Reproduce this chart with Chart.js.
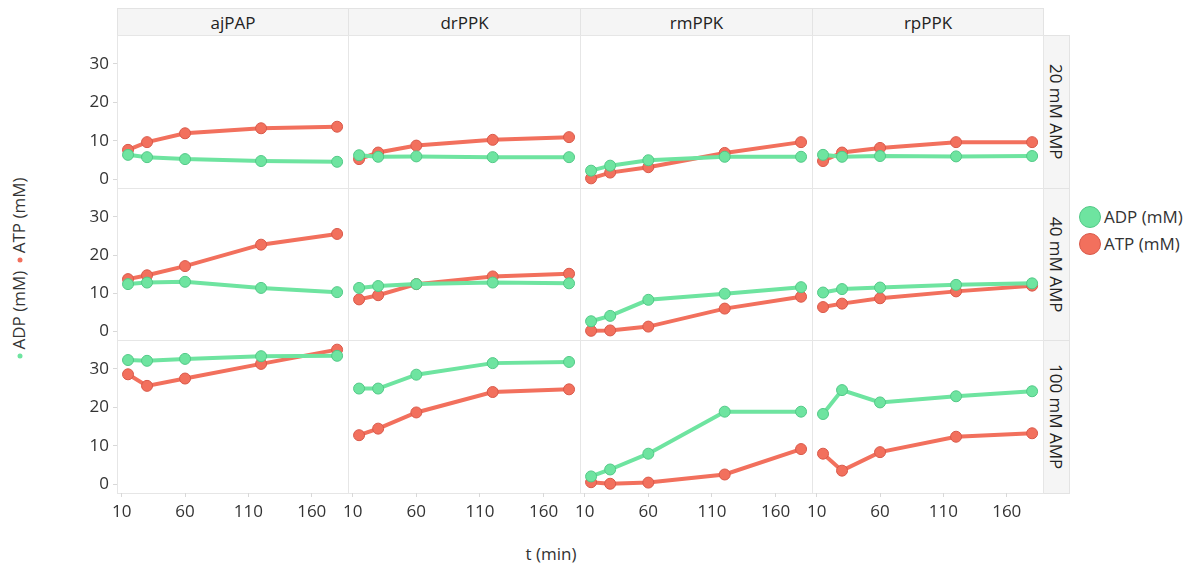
<!DOCTYPE html>
<html>
<head>
<meta charset="utf-8">
<script src="https://cdn.jsdelivr.net/npm/chart.js@4/dist/chart.umd.min.js"></script>
<style>
  html, body { margin: 0; padding: 0; background: #fff; }
  body { width: 1191px; height: 567px; position: relative; overflow: hidden;
         font-family: "Open Sans", "Noto Sans", sans-serif; color: #333; }
  .strip { position: absolute; background: #f5f5f5; border: 1px solid #e3e3e3; box-sizing: border-box;
           display: flex; align-items: center; justify-content: center; font-size: 17px; color: #222; }
  .strip.side span { writing-mode: vertical-rl; }
  .frame { position: absolute; border: 1px solid #e6e6e6; box-sizing: border-box; background: #fff; }
  canvas { position: absolute; }
  .ytitle { position: absolute; left: 18px; top: 270px; white-space: nowrap; font-size: 17px; color: #333;
            transform: translate(-50%, -50%) rotate(-90deg); }
  .dot { display: inline-block; width: 5px; height: 5px; border-radius: 50%; vertical-align: middle; margin: 0 4px 0 4px; }
  .xtitle { position: absolute; left: 551px; top: 553px; transform: translate(-50%, -50%); font-size: 17px; color: #333; }
  .legend { position: absolute; left: 1079px; top: 203px; font-size: 17px; color: #333; }
  .legend .item { display: flex; align-items: center; height: 27px; }
  .legend .sw { width: 22px; height: 22px; border-radius: 50%; box-sizing: border-box; margin-right: 3px; }
</style>
</head>
<body>
<script>
// Facets: enzyme (columns) x AMP concentration (rows)
const enzymes = ['ajPAP', 'drPPK', 'rmPPK', 'rpPPK'];
const ampLevels = ['20 mM AMP', '40 mM AMP', '100 mM AMP'];
const times = [15, 30, 60, 120, 180];
const xTicks = [10, 60, 110, 160];
const yTicks = [0, 10, 20, 30];

// ADP / ATP (mM) per enzyme, in enzyme order
const adp20  = [[6.4, 5.8, 5.3, 4.8, 4.6], [6.3, 5.9, 6.0, 5.8, 5.8], [2.3, 3.6, 5.0, 5.9, 5.9], [6.4, 5.9, 6.1, 6.0, 6.1]];
const atp20  = [[7.7, 9.7, 12.0, 13.3, 13.7], [5.3, 7.0, 8.8, 10.3, 11.0], [0.3, 1.8, 3.2, 6.9, 9.7], [4.8, 7.0, 8.2, 9.7, 9.7]];
const adp40  = [[12.4, 12.8, 13.0, 11.4, 10.3], [11.4, 11.9, 12.4, 12.8, 12.6], [2.7, 4.1, 8.3, 9.9, 11.6], [10.2, 11.1, 11.5, 12.2, 12.6]];
const atp40  = [[13.7, 14.7, 17.1, 22.7, 25.5], [8.4, 9.5, 12.4, 14.4, 15.1], [0.2, 0.3, 1.3, 6.0, 9.1], [6.4, 7.3, 8.7, 10.5, 12.0]];
const adp100 = [[32.3, 32.1, 32.6, 33.3, 33.4], [24.9, 24.9, 28.5, 31.5, 31.8], [2.1, 3.9, 8.0, 18.9, 18.9], [18.3, 24.5, 21.3, 22.9, 24.2]];
const atp100 = [[28.6, 25.6, 27.5, 31.3, 35.0], [12.8, 14.5, 18.7, 24.0, 24.7], [0.6, 0.2, 0.5, 2.6, 9.2], [8.0, 3.6, 8.4, 12.4, 13.3]];

const adpRows = [adp20, adp40, adp100];
const atpRows = [atp20, atp40, atp100];

const seriesNames = ['ADP (mM)', 'ATP (mM)'];
const lineColors = ['#6ee4a0', '#f2705d'];
const pointBorders = ['#52c987', '#d9594a'];

// Panel grid geometry
const colEdges = [117, 348, 580, 812, 1043];
const rowEdges = [35, 188, 340, 493];
const LEFT_M = 45, BOTTOM_M = 40;

Chart.defaults.font.family = '"Open Sans", "Noto Sans", sans-serif';
Chart.defaults.font.size = 17;
Chart.defaults.color = '#333';

function el(tag, cls, style, html) {
  const e = document.createElement(tag);
  if (cls) e.className = cls;
  Object.assign(e.style, style || {});
  if (html !== undefined) e.innerHTML = html;
  document.body.appendChild(e);
  return e;
}

// Column header strips
enzymes.forEach((name, c) => {
  el('div', 'strip', { left: colEdges[c] + 'px', top: '8px', width: (colEdges[c + 1] - colEdges[c] + 1) + 'px', height: '28px' }, name);
});
// Row strips on the right
ampLevels.forEach((name, r) => {
  el('div', 'strip side', { left: '1043px', top: rowEdges[r] + 'px', width: '27px', height: (rowEdges[r + 1] - rowEdges[r] + 1) + 'px' }, '<span>' + name + '</span>');
});
// Panel frames
for (let r = 0; r < 3; r++) {
  for (let c = 0; c < 4; c++) {
    el('div', 'frame', { left: colEdges[c] + 'px', top: rowEdges[r] + 'px',
      width: (colEdges[c + 1] - colEdges[c] + 1) + 'px', height: (rowEdges[r + 1] - rowEdges[r] + 1) + 'px' });
  }
}

// Axis titles and legend
el('div', 'ytitle', {}, '<span class="dot" style="background:' + lineColors[0] + '"></span>' + seriesNames[0] +
  ' <span class="dot" style="background:' + lineColors[1] + '"></span>' + seriesNames[1]);
el('div', 'xtitle', {}, 't (min)');
el('div', 'legend', {}, seriesNames.map((n, i) =>
  '<div class="item"><div class="sw" style="background:' + lineColors[i] + ';border:1.5px solid ' + pointBorders[i] + '"></div>' + n + '</div>').join(''));

// Axis sizes are fixed so every panel's plot area fills its frame exactly
function fixX(show) {
  return s => { s.height = show ? BOTTOM_M : 0; s.paddingLeft = 0; s.paddingRight = 0; };
}
function fixY(show) {
  return s => { s.width = show ? LEFT_M : 0; s.paddingTop = 0; s.paddingBottom = 0; };
}

// One line chart per panel
for (let r = 0; r < 3; r++) {
  for (let c = 0; c < 4; c++) {
    const w = colEdges[c + 1] - colEdges[c];
    const h = rowEdges[r + 1] - rowEdges[r];
    const cv = document.createElement('canvas');
    cv.width = w + LEFT_M;
    cv.height = h + BOTTOM_M;
    cv.style.left = (colEdges[c] - LEFT_M) + 'px';
    cv.style.top = rowEdges[r] + 'px';
    document.body.appendChild(cv);

    const showY = c === 0, showX = r === 2;
    const series = [adpRows[r][c], atpRows[r][c]];
    new Chart(cv, {
      type: 'line',
      data: {
        datasets: series.map((vals, i) => ({
          label: seriesNames[i],
          data: times.map((t, k) => ({ x: t, y: vals[k] })),
          borderColor: lineColors[i],
          borderWidth: 4,
          backgroundColor: lineColors[i],
          pointBackgroundColor: lineColors[i],
          pointBorderColor: pointBorders[i],
          pointBorderWidth: 1,
          pointRadius: 5.5,
          tension: 0,
          clip: false
        }))
      },
      options: {
        responsive: false,
        animation: false,
        events: [],
        layout: { autoPadding: false, padding: { left: showY ? 0 : LEFT_M, bottom: showX ? 0 : BOTTOM_M, top: 0, right: 0 } },
        plugins: { legend: { display: false }, tooltip: { enabled: false } },
        scales: {
          x: {
            type: 'linear', min: 6.3, max: 188.6, display: showX,
            afterBuildTicks: s => { s.ticks = xTicks.map(v => ({ value: v })); },
            afterFit: fixX(showX),
            ticks: { padding: 5, color: '#333', maxRotation: 0, font: { size: 17 } },
            grid: { display: true, drawOnChartArea: false, drawTicks: true, tickLength: 4, color: '#d8d8d8' },
            border: { display: false }
          },
          y: {
            type: 'linear', min: -2.2, max: 37.5, display: showY,
            afterBuildTicks: s => { s.ticks = yTicks.map(v => ({ value: v })); },
            afterFit: fixY(showY),
            ticks: { padding: 4, color: '#333', font: { size: 17 } },
            grid: { display: true, drawOnChartArea: false, drawTicks: true, tickLength: 4, color: '#d8d8d8' },
            border: { display: false }
          }
        }
      }
    });
  }
}
</script>
</body>
</html>
